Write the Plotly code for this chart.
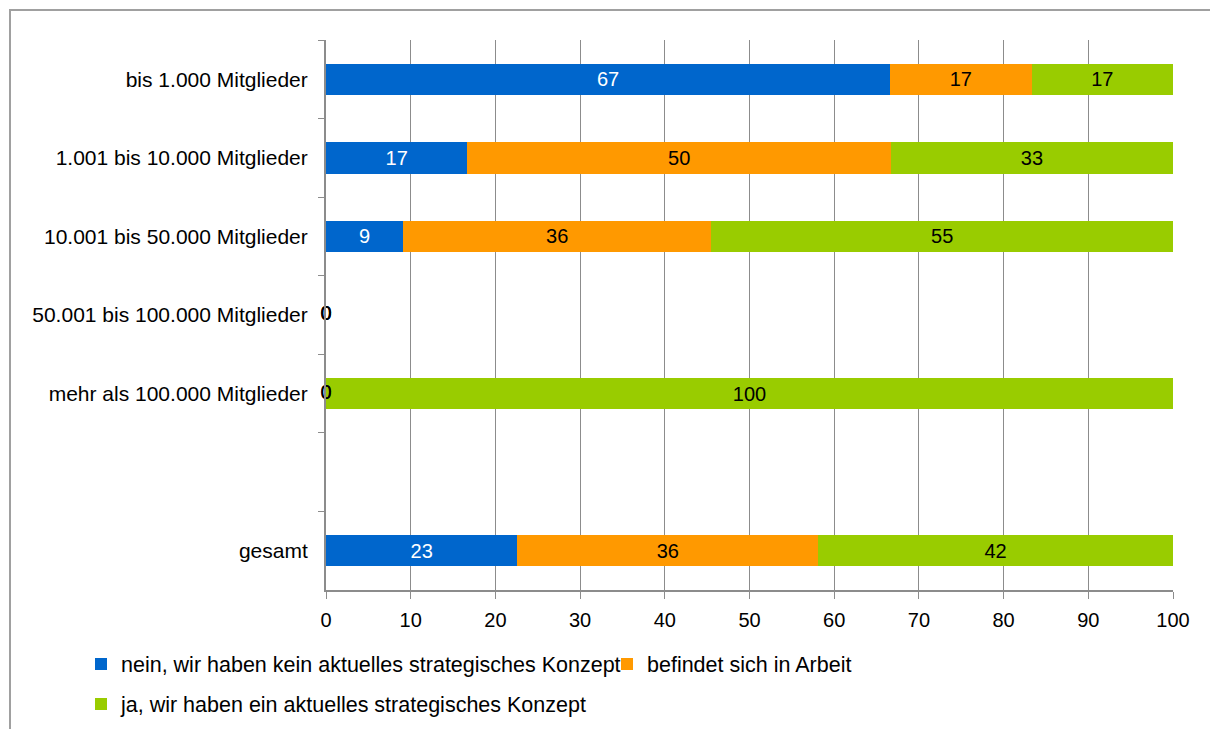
import plotly.graph_objects as go

# Categories (top to bottom); the blank entry leaves an empty row before "gesamt"
categories = [
    "bis 1.000 Mitglieder",
    "1.001 bis 10.000 Mitglieder",
    "10.001 bis 50.000 Mitglieder",
    "50.001 bis 100.000 Mitglieder",
    "mehr als 100.000 Mitglieder",
    " ",
    "gesamt",
]

# Shares in percent per answer
nein = [66.6, 16.7, 9.1, 0, 0, None, 22.6]
in_arbeit = [16.7, 50.0, 36.4, 0, 0, None, 35.5]
ja = [16.7, 33.3, 54.5, 0, 100.0, None, 41.9]

series = [
    ("nein, wir haben kein aktuelles strategisches Konzept", nein, "#0066CC", "white", "legend"),
    ("befindet sich in Arbeit", in_arbeit, "#FF9900", "black", "legend2"),
    ("ja, wir haben ein aktuelles strategisches Konzept", ja, "#99CC00", "black", "legend3"),
]

FONT = "Liberation Sans, Arial, sans-serif"

fig = go.Figure()

for name, vals, color, txtcolor, leg in series:
    fig.add_trace(go.Bar(
        y=categories,
        x=vals,
        name=name,
        orientation="h",
        marker=dict(color=color, line=dict(width=0)),
        width=0.4,
        texttemplate="%{x:.0f}",
        textposition="inside",
        insidetextanchor="middle",
        textangle=0,
        constraintext="none",
        textfont=dict(family=FONT, size=20, color=txtcolor),
        cliponaxis=False,
        legend=leg,
        hoverinfo="skip",
    ))

# Zero shares have no bar width; their "0" labels sit at the start of the stack
zero_x, zero_y, zero_t = [], [], []
for i, cat in enumerate(categories):
    base = 0.0
    for _, vals, _, _, _ in series:
        v = vals[i]
        if v is None:
            continue
        if v == 0:
            zero_x.append(base)
            zero_y.append(cat)
            zero_t.append(f"{v:.0f}")
        base += v
fig.add_trace(go.Scatter(
    x=zero_x, y=zero_y, text=zero_t, mode="text",
    textposition="middle center",
    textfont=dict(family=FONT, size=20, color="black"),
    cliponaxis=False,
    showlegend=False, hoverinfo="skip",
))

grid = "#8C8C8C"
legend_font = dict(family=FONT, size=21.5, color="black")

fig.update_layout(
    width=1210,
    height=729,
    barmode="stack",
    plot_bgcolor="white",
    paper_bgcolor="white",
    margin=dict(l=326, r=37, t=40, b=139),
    font=dict(family=FONT, size=20, color="black"),
    xaxis=dict(
        range=[0, 100],
        tickmode="linear", tick0=0, dtick=10,
        showgrid=True, gridcolor=grid, gridwidth=1,
        showline=True, linecolor=grid, linewidth=2,
        ticks="outside", ticklen=7, tickcolor=grid, tickwidth=1,
        zeroline=False,
        tickfont=dict(family=FONT, size=20, color="black"),
        ticklabelstandoff=4,
    ),
    yaxis=dict(
        type="category",
        categoryorder="array",
        categoryarray=categories,
        range=[6.5, -0.5],
        showgrid=False,
        showline=True, linecolor=grid, linewidth=2,
        ticks="outside", ticklen=6, tickcolor=grid, tickwidth=1,
        tickson="boundaries",
        tickfont=dict(family=FONT, size=21, color="black"),
        ticklabelstandoff=12,
    ),
    legend=dict(
        orientation="h", xref="container", yref="container",
        x=81 / 1210, y=1 - 664 / 729, xanchor="left", yanchor="middle",
        font=legend_font, bgcolor="rgba(0,0,0,0)",
    ),
    legend2=dict(
        orientation="h", xref="container", yref="container",
        x=607 / 1210, y=1 - 664 / 729, xanchor="left", yanchor="middle",
        font=legend_font, bgcolor="rgba(0,0,0,0)",
    ),
    legend3=dict(
        orientation="h", xref="container", yref="container",
        x=81 / 1210, y=1 - 704 / 729, xanchor="left", yanchor="middle",
        font=legend_font, bgcolor="rgba(0,0,0,0)",
    ),
    shapes=[
        dict(
            type="rect", xref="paper", yref="paper",
            x0=(10 - 326) / 847, x1=(1225 - 326) / 847,
            y0=(590 - 745) / 550, y1=(590 - 10) / 550,
            line=dict(color="#A0A0A0", width=2),
            fillcolor="rgba(0,0,0,0)",
            layer="below",
        )
    ],
)

fig.write_html("out.html")
